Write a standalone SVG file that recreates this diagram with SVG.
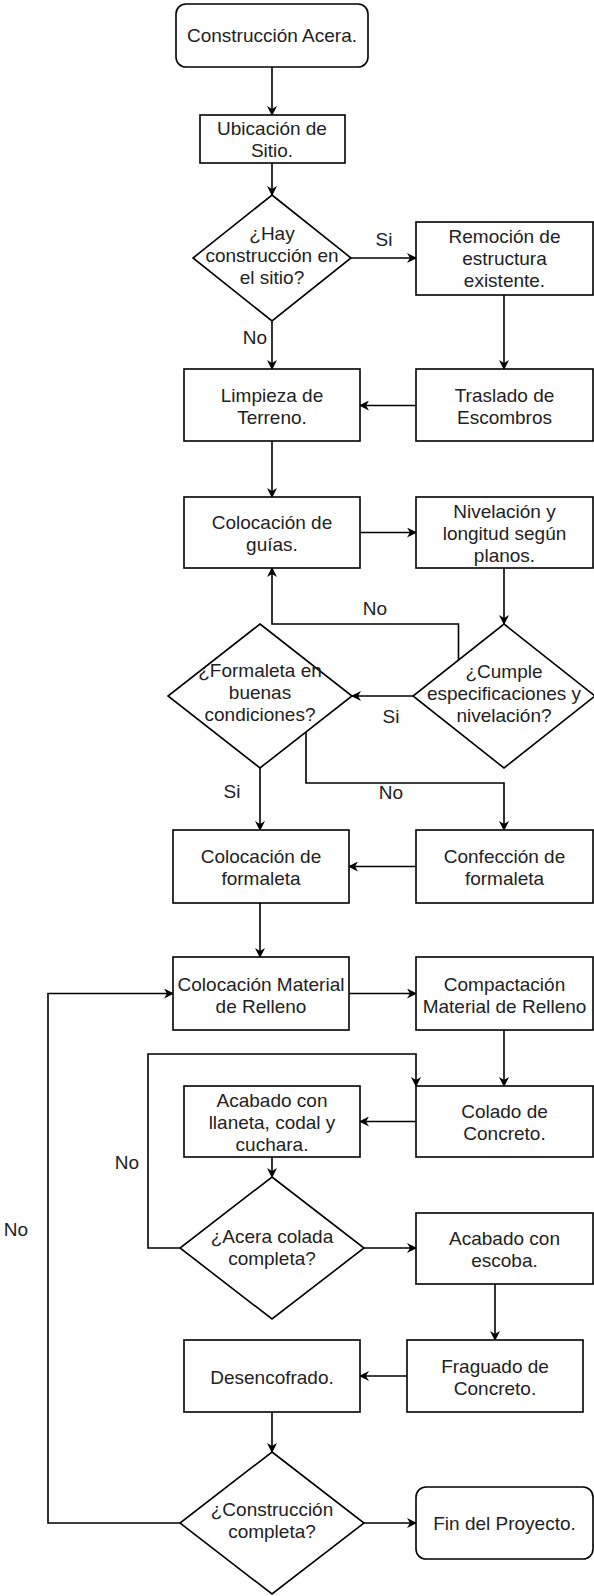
<svg xmlns="http://www.w3.org/2000/svg" width="594" height="1596" viewBox="0 0 594 1596">
<style>
.n{fill:#fff;stroke:#000;stroke-width:1.6}
.t{font-family:"Liberation Sans",Arial,sans-serif;font-size:19px;fill:#222;text-anchor:middle}
.l{font-family:"Liberation Sans",Arial,sans-serif;font-size:19px;fill:#222;text-anchor:middle}
.c{fill:none;stroke:#000;stroke-width:1.6}
</style>
<defs>
<marker id="a" viewBox="0 0 10 10" refX="9" refY="5" markerWidth="10" markerHeight="10" markerUnits="userSpaceOnUse" orient="auto">
<path d="M0,0 L10,5 L0,10 L3,5 z" fill="#000"/>
</marker>
</defs>
<rect width="594" height="1596" fill="#fff"/>
<g id="connectors">
<path class="c" marker-end="url(#a)" d="M272,67 V115"/>
<path class="c" marker-end="url(#a)" d="M272,163 V195"/>
<path class="c" marker-end="url(#a)" d="M351,258 H416"/>
<path class="c" marker-end="url(#a)" d="M272,321 V369"/>
<path class="c" marker-end="url(#a)" d="M504,295 V369"/>
<path class="c" marker-end="url(#a)" d="M416,405.5 H360"/>
<path class="c" marker-end="url(#a)" d="M272,441 V497"/>
<path class="c" marker-end="url(#a)" d="M360,532.5 H416"/>
<path class="c" marker-end="url(#a)" d="M504,568 V624"/>
<path class="c" marker-end="url(#a)" d="M458.5,660 V624 H272 V568"/>
<path class="c" marker-end="url(#a)" d="M413,696 H352"/>
<path class="c" marker-end="url(#a)" d="M260,768 V830"/>
<path class="c" marker-end="url(#a)" d="M306,732 V783 H504 V830"/>
<path class="c" marker-end="url(#a)" d="M416,866.5 H349"/>
<path class="c" marker-end="url(#a)" d="M260,903 V957"/>
<path class="c" marker-end="url(#a)" d="M349,993.5 H416"/>
<path class="c" marker-end="url(#a)" d="M504,1030 V1086"/>
<path class="c" marker-end="url(#a)" d="M416,1121.5 H360"/>
<path class="c" marker-end="url(#a)" d="M272,1157 V1177"/>
<path class="c" marker-end="url(#a)" d="M180,1248 H148 V1054 H416 V1086"/>
<path class="c" marker-end="url(#a)" d="M364,1248 H416"/>
<path class="c" marker-end="url(#a)" d="M495,1284 V1340"/>
<path class="c" marker-end="url(#a)" d="M407,1376 H360"/>
<path class="c" marker-end="url(#a)" d="M272,1412 V1452"/>
<path class="c" marker-end="url(#a)" d="M364,1523 H416"/>
<path class="c" marker-end="url(#a)" d="M180,1523 H48 V993.5 H173"/>
<text class="l" x="384" y="246">Si</text>
<text class="l" x="255" y="344">No</text>
<text class="l" x="375" y="615">No</text>
<text class="l" x="391" y="723">Si</text>
<text class="l" x="232" y="798">Si</text>
<text class="l" x="391" y="799">No</text>
<text class="l" x="127" y="1169">No</text>
<text class="l" x="16" y="1236">No</text>
</g>
<g id="start"><rect class="n" x="176" y="4" width="192" height="63" rx="10"/><text class="t" x="272" y="42">Construcción Acera.</text></g>
<g id="ubicacion"><rect class="n" x="200" y="115" width="145" height="48"/><text class="t" x="272" y="134.5">Ubicación de</text><text class="t" x="272" y="156.5">Sitio.</text></g>
<g id="hay"><polygon class="n" points="272,195 351,258 272,321 193,258"/><text class="t" x="272" y="240">¿Hay</text><text class="t" x="272" y="262">construcción en</text><text class="t" x="272" y="284">el sitio?</text></g>
<g id="remocion"><rect class="n" x="416" y="222" width="177" height="73"/><text class="t" x="504.5" y="243">Remoción de</text><text class="t" x="504.5" y="265">estructura</text><text class="t" x="504.5" y="287">existente.</text></g>
<g id="limpieza"><rect class="n" x="184" y="369" width="176" height="72"/><text class="t" x="272" y="402">Limpieza de</text><text class="t" x="272" y="424">Terreno.</text></g>
<g id="traslado"><rect class="n" x="416" y="369" width="177" height="72"/><text class="t" x="504.5" y="402">Traslado de</text><text class="t" x="504.5" y="424">Escombros</text></g>
<g id="guias"><rect class="n" x="184" y="497" width="176" height="71"/><text class="t" x="272" y="529">Colocación de</text><text class="t" x="272" y="551">guías.</text></g>
<g id="nivelacion"><rect class="n" x="416" y="497" width="177" height="71"/><text class="t" x="504.5" y="518">Nivelación y</text><text class="t" x="504.5" y="540">longitud según</text><text class="t" x="504.5" y="562">planos.</text></g>
<g id="cumple"><polygon class="n" points="504,624 595,696 504,768 413,696"/><text class="t" x="504" y="678">¿Cumple</text><text class="t" x="504" y="700">especificaciones y</text><text class="t" x="504" y="722">nivelación?</text></g>
<g id="formaleta"><polygon class="n" points="260,624 352,696 260,768 168,696"/><text class="t" x="260" y="677">¿Formaleta en</text><text class="t" x="260" y="699">buenas</text><text class="t" x="260" y="721">condiciones?</text></g>
<g id="colformaleta"><rect class="n" x="173" y="830" width="176" height="73"/><text class="t" x="261" y="863">Colocación de</text><text class="t" x="261" y="885">formaleta</text></g>
<g id="confeccion"><rect class="n" x="416" y="830" width="177" height="73"/><text class="t" x="504.5" y="863">Confección de</text><text class="t" x="504.5" y="885">formaleta</text></g>
<g id="material"><rect class="n" x="173" y="957" width="176" height="73"/><text class="t" x="261" y="991">Colocación Material</text><text class="t" x="261" y="1013">de Relleno</text></g>
<g id="compactacion"><rect class="n" x="416" y="957" width="177" height="73"/><text class="t" x="504.5" y="991">Compactación</text><text class="t" x="504.5" y="1013">Material de Relleno</text></g>
<g id="colado"><rect class="n" x="416" y="1086" width="177" height="71"/><text class="t" x="504.5" y="1118">Colado de</text><text class="t" x="504.5" y="1140">Concreto.</text></g>
<g id="llaneta"><rect class="n" x="184" y="1086" width="176" height="71"/><text class="t" x="272" y="1107">Acabado con</text><text class="t" x="272" y="1129">llaneta, codal y</text><text class="t" x="272" y="1151">cuchara.</text></g>
<g id="acera"><polygon class="n" points="272,1177 364,1248 272,1319 180,1248"/><text class="t" x="272" y="1243">¿Acera colada</text><text class="t" x="272" y="1265">completa?</text></g>
<g id="escoba"><rect class="n" x="416" y="1213" width="177" height="71"/><text class="t" x="504.5" y="1245">Acabado con</text><text class="t" x="504.5" y="1267">escoba.</text></g>
<g id="fraguado"><rect class="n" x="407" y="1340" width="176" height="72"/><text class="t" x="495" y="1373">Fraguado de</text><text class="t" x="495" y="1395">Concreto.</text></g>
<g id="desencofrado"><rect class="n" x="184" y="1340" width="176" height="72"/><text class="t" x="272" y="1384">Desencofrado.</text></g>
<g id="construccion"><polygon class="n" points="272,1452 364,1523 272,1594 180,1523"/><text class="t" x="272" y="1516">¿Construcción</text><text class="t" x="272" y="1538">completa?</text></g>
<g id="fin"><rect class="n" x="416" y="1487" width="177" height="72" rx="10"/><text class="t" x="504.5" y="1530">Fin del Proyecto.</text></g>
</svg>
